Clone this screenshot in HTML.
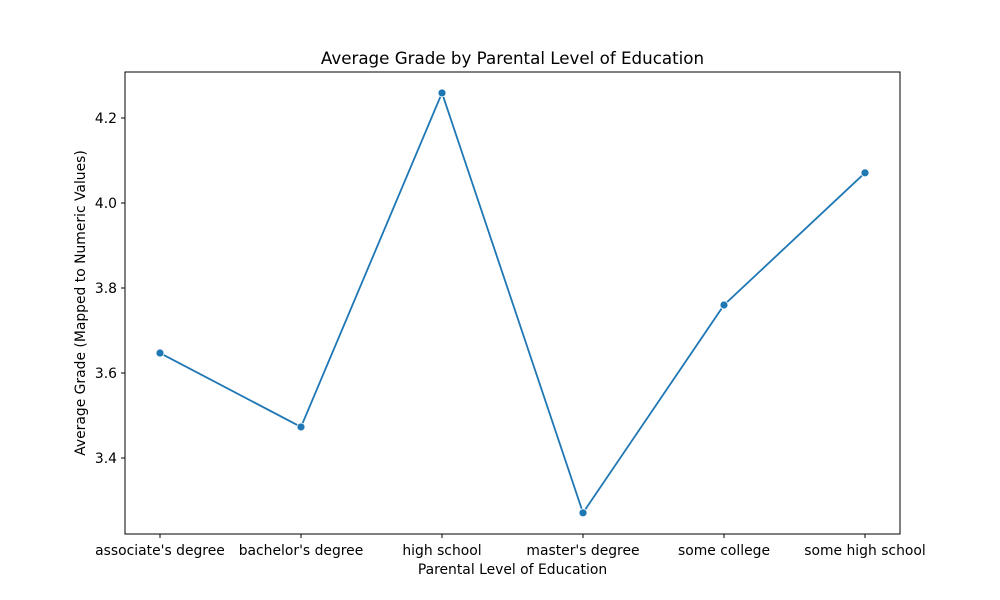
<!DOCTYPE html>
<html><head><meta charset="utf-8"><style>
html,body{margin:0;padding:0;background:#fff;}
svg{display:block;font-family:"DejaVu Sans","Liberation Sans",sans-serif;}
</style></head><body>
<svg id="chart" width="1000" height="600" viewBox="0 0 1000 600"></svg>
<script>
const categories = ["associate's degree","bachelor's degree","high school","master's degree","some college","some high school"];
const values = [3.647, 3.473, 4.259, 3.271, 3.760, 4.071];
const yTicks = [3.4, 3.6, 3.8, 4.0, 4.2];
const yTickLabels = ["3.4","3.6","3.8","4.0","4.2"];

const NS = "http://www.w3.org/2000/svg";
const svg = document.getElementById('chart');
const L=125,R=900,T=72,B=534;
const xPos = i => 160 + i*141;
const yPos = v => 203 - (v-4.0)*425;
function mk(tag, attrs, parent){const e=document.createElementNS(NS,tag);for(const k in attrs)e.setAttribute(k,attrs[k]);(parent||svg).appendChild(e);return e;}

const title = mk('text',{x:(L+R)/2,y:64,'text-anchor':'middle','font-size':16.7,fill:'#000'});
title.textContent='Average Grade by Parental Level of Education';



const frame = mk('rect',{x:L,y:T,width:R-L,height:B-T,fill:'none',stroke:'#000','stroke-width':1});



yTicks.forEach((v,i)=>{
  const y=yPos(v);
  const t=mk('line',{x1:L-4,x2:L,y1:y,y2:y,stroke:'#000'});
  
  
  const lb=mk('text',{x:L-8,y:y+5,'text-anchor':'end','font-size':13.9,fill:'#000'});
  lb.textContent=yTickLabels[i];
  
  
});
categories.forEach((c,i)=>{
  const x=xPos(i);
  const t=mk('line',{x1:x,x2:x,y1:B,y2:B+4,stroke:'#000'});
  
  
  const lb=mk('text',{x:x,y:B+21,'text-anchor':'middle','font-size':13.9,fill:'#000'});
  lb.textContent=c;
  
  
});

const xt=mk('text',{x:(L+R)/2,y:574,'text-anchor':'middle','font-size':13.9,fill:'#000'});
xt.textContent='Parental Level of Education';


const yt=mk('text',{x:0,y:0,'text-anchor':'middle','font-size':13.9,fill:'#000',transform:`translate(85,${(T+B)/2}) rotate(-90)`});
yt.textContent='Average Grade (Mapped to Numeric Values)';



const pts=values.map((v,i)=>xPos(i)+','+yPos(v)).join(' ');
const line=mk('polyline',{points:pts,fill:'none',stroke:'#1f77b4','stroke-width':1.8});


values.forEach((v,i)=>{
  const c=mk('circle',{cx:xPos(i),cy:yPos(v),r:4,fill:'#1f77b4',stroke:'#fff','stroke-width':0.8});
  
  
});
</script>
</body></html>
